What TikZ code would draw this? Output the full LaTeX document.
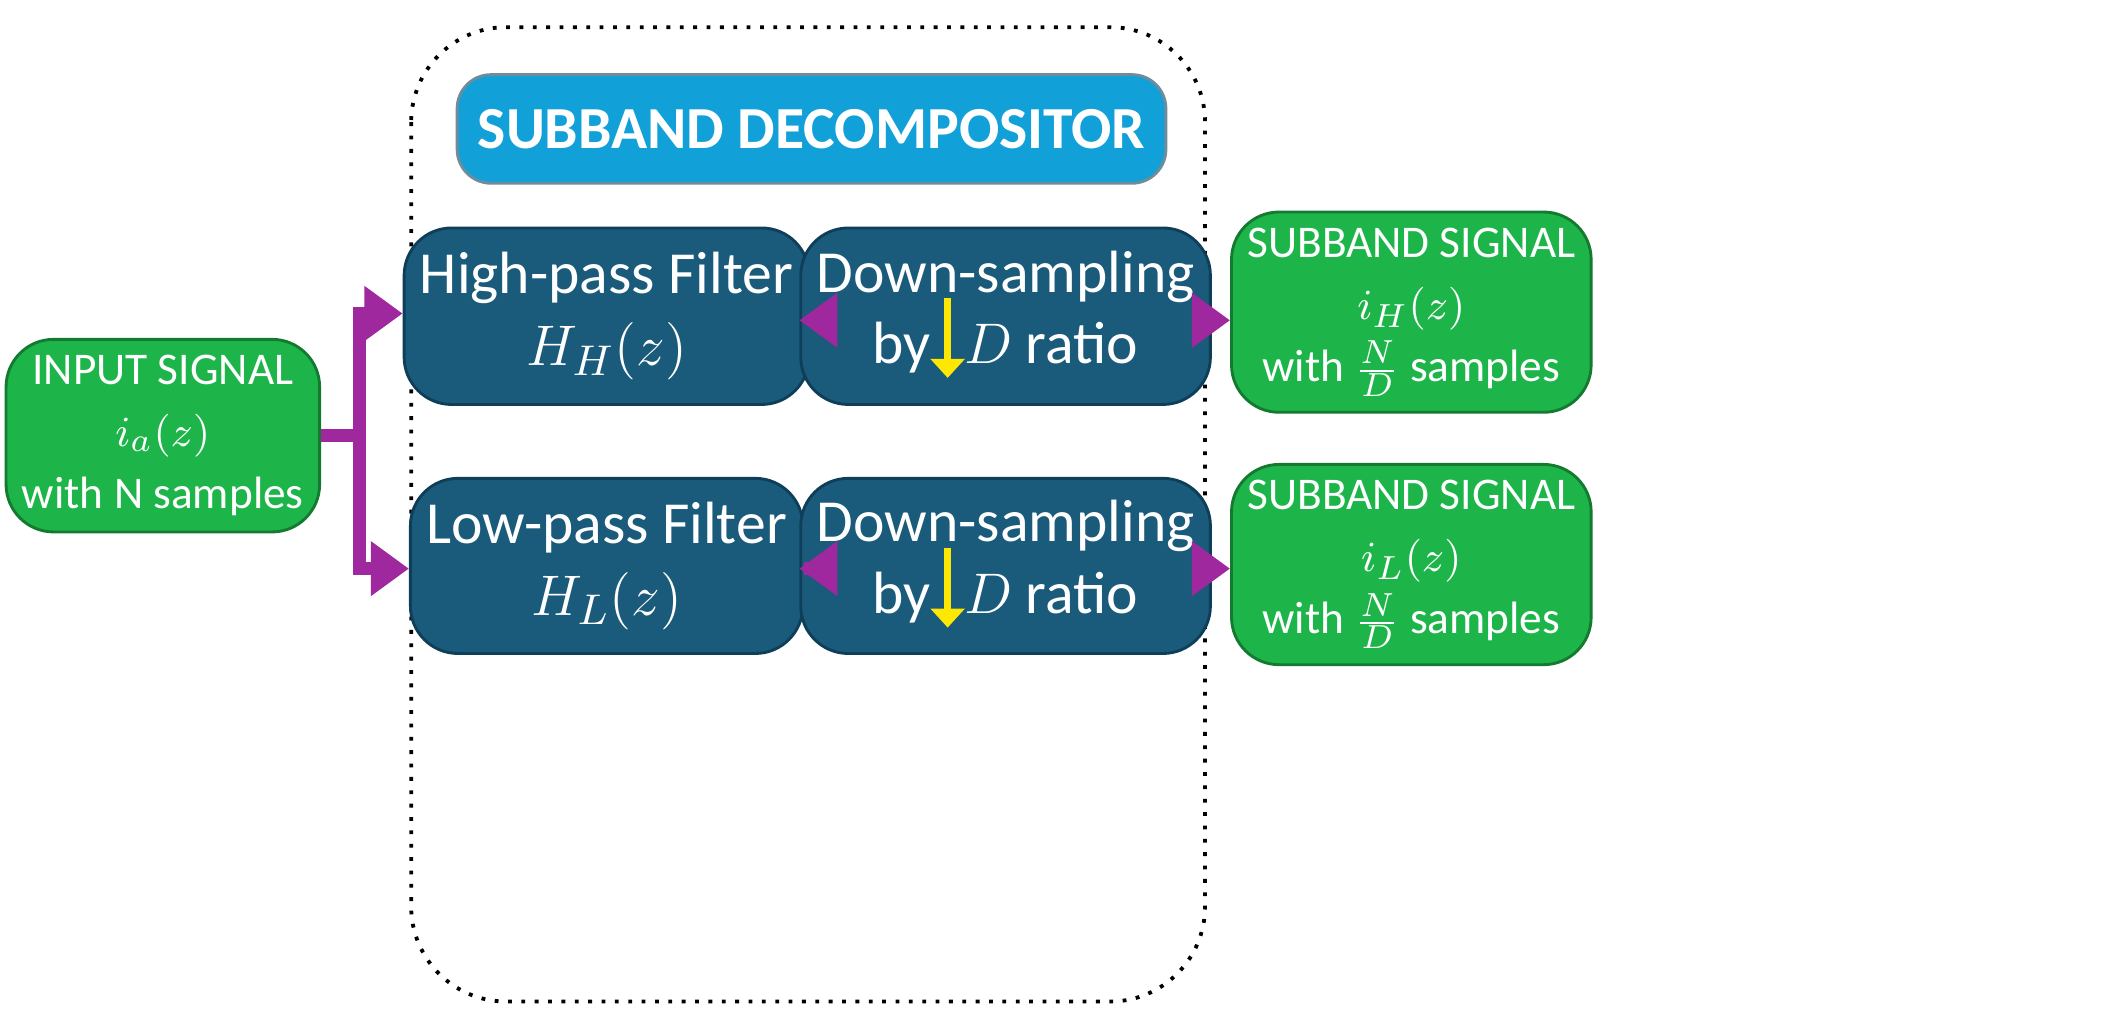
\documentclass[tikz,border=0pt]{standalone}
\usepackage{fontspec}
\setmainfont{Carlito}
\usetikzlibrary{arrows.meta}
\definecolor{dark}{HTML}{1A5A7A}
\definecolor{darkb}{HTML}{0F3F58}
\definecolor{sky}{HTML}{12A0D8}
\definecolor{grn}{HTML}{1DB54A}
\definecolor{grnb}{HTML}{137A30}
\definecolor{mag}{HTML}{A0289E}
\newcommand{\dnarr}{\tikz[baseline=0]\draw[yellow!90!orange,line width=1.6pt,-{Triangle[length=4pt,width=7pt]}] (0,2.3ex)--(0,-0.5ex);}
\begin{document}
\begin{tikzpicture}[x=0.01cm,y=-0.01cm,
 blk/.style={draw=darkb,line width=0.6pt,fill=dark,rounded corners=0.35cm,text=white,align=center,font=\fontsize{12.5}{17}\selectfont},
 gbox/.style={draw=grnb,line width=0.6pt,fill=grn,rounded corners=0.35cm,text=white,align=center,font=\fontsize{9.5}{13}\selectfont},
 arr/.style={mag,line width=2.6pt,-{Triangle[length=8pt,width=11pt]}},
 ln/.style={mag,line width=2.6pt}]
\useasboundingbox (0,0) rectangle (1560,750);
\draw[dotted,line width=0.8pt,rounded corners=0.7cm] (303,20) rectangle (888,738);
\node[fill=sky,draw=darkb!60,line width=0.6pt,rounded corners=0.25cm,text=white,font=\bfseries\fontsize{12.5}{15}\selectfont,minimum width=5.22cm,minimum height=0.8cm] (title) at (598,95) {SUBBAND DECOMPOSITOR};
\node[blk,minimum width=2.2cm,minimum height=1.3cm] (hpf) at (447,233) {High-pass Filter\\[-2pt]$H_H(z)$};
\node[blk,minimum width=2.2cm,minimum height=1.29cm] (lpf) at (447,417) {Low-pass Filter\\[-2pt]$H_L(z)$};
\node[blk,minimum width=2.4cm,minimum height=1.3cm] (ds1) at (741,233) {Down-sampling\\[-2pt]by\dnarr$D$ ratio};
\node[blk,minimum width=2.4cm,minimum height=1.29cm] (ds2) at (741,417) {Down-sampling\\[-2pt]by\dnarr$D$ ratio};
\node[gbox,minimum width=2.18cm,minimum height=1.33cm] (in) at (120,321) {INPUT SIGNAL\\$i_a(z)$\\with N samples};
\node[gbox,minimum width=2.19cm,minimum height=1.31cm] (o1) at (1040,230) {SUBBAND SIGNAL\\$i_H(z)$\\with $\frac{N}{D}$ samples};
\node[gbox,minimum width=2.19cm,minimum height=1.31cm] (o2) at (1040,416) {SUBBAND SIGNAL\\$i_L(z)$\\with $\frac{N}{D}$ samples};
\coordinate (j) at (265,321);
\coordinate (jt) at (265,231);
\coordinate (jb) at (265,419);
\draw[ln] (in.east|-j) -- (j);
\draw[ln,line cap=rect] (jt) -- (jb);
\draw[arr] (jt) -- (hpf.west|-jt);
\draw[arr] (jb) -- (lpf.west|-jb);
\draw[arr] (hpf.east|-0,236) -- (ds1.west|-0,236);
\draw[arr] (lpf.east|-0,419) -- (ds2.west|-0,419);
\draw[arr] (ds1.east|-0,236) -- (o1.west|-0,236);
\draw[arr] (ds2.east|-0,419) -- (o2.west|-0,419);
\end{tikzpicture}
\end{document}
